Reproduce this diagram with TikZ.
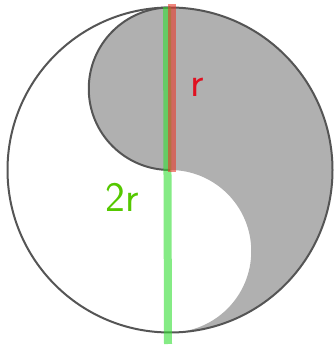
\documentclass[tikz,border=0pt]{standalone}
\usepackage{xcolor}
\usepackage{tikz}
\usetikzlibrary{positioning,calc}
\definecolor{yinfill}{HTML}{B0B0B0}
\definecolor{rimgray}{HTML}{555555}
\definecolor{markgreen}{HTML}{33DD33}
\definecolor{markred}{HTML}{E8382A}
\definecolor{labelgreen}{HTML}{55C800}
\definecolor{labelred}{HTML}{E01020}

\begin{document}
\begin{tikzpicture}[x=1pt,y=1pt,
  rim/.style={draw=rimgray,line width=2pt},
  marker/.style={line width=8pt,opacity=0.6},
  handlabel/.style={font=\sffamily\fontsize{42}{42}\selectfont,inner sep=0pt}]

\useasboundingbox (0,0) rectangle (333,345);
\def\bigR{162.5}\def\smallR{81.25}
\coordinate (mid) at (170,175);
\coordinate (top) at (170,337.5);
\coordinate (upc) at (170,256.25);

% gray half plus upper disc, lower disc cut out
\fill[yinfill] (top) arc[start angle=90,end angle=-90,radius=\bigR]
  arc[start angle=-90,end angle=90,radius=\smallR]
  arc[start angle=270,end angle=90,radius=\smallR] -- cycle;
\draw[rim] (mid) circle[radius=\bigR];
\draw[rim] (mid) arc[start angle=270,end angle=90,radius=\smallR];

% diameter and radius strokes
\coordinate (gtop) at (167,338);
\coordinate (gbot) at (168,1);
\coordinate (rtop) at (172,341);
\coordinate (rbot) at (172,173);
\draw[marker,markgreen] (gtop) -- (gbot);
\draw[marker,markred] (rtop) -- (rbot);

\node[handlabel,labelred] (rlab) at (197,258) {r};
\node[handlabel,labelgreen] (twor) at (122,148) {2r};

\end{tikzpicture}
\end{document}
